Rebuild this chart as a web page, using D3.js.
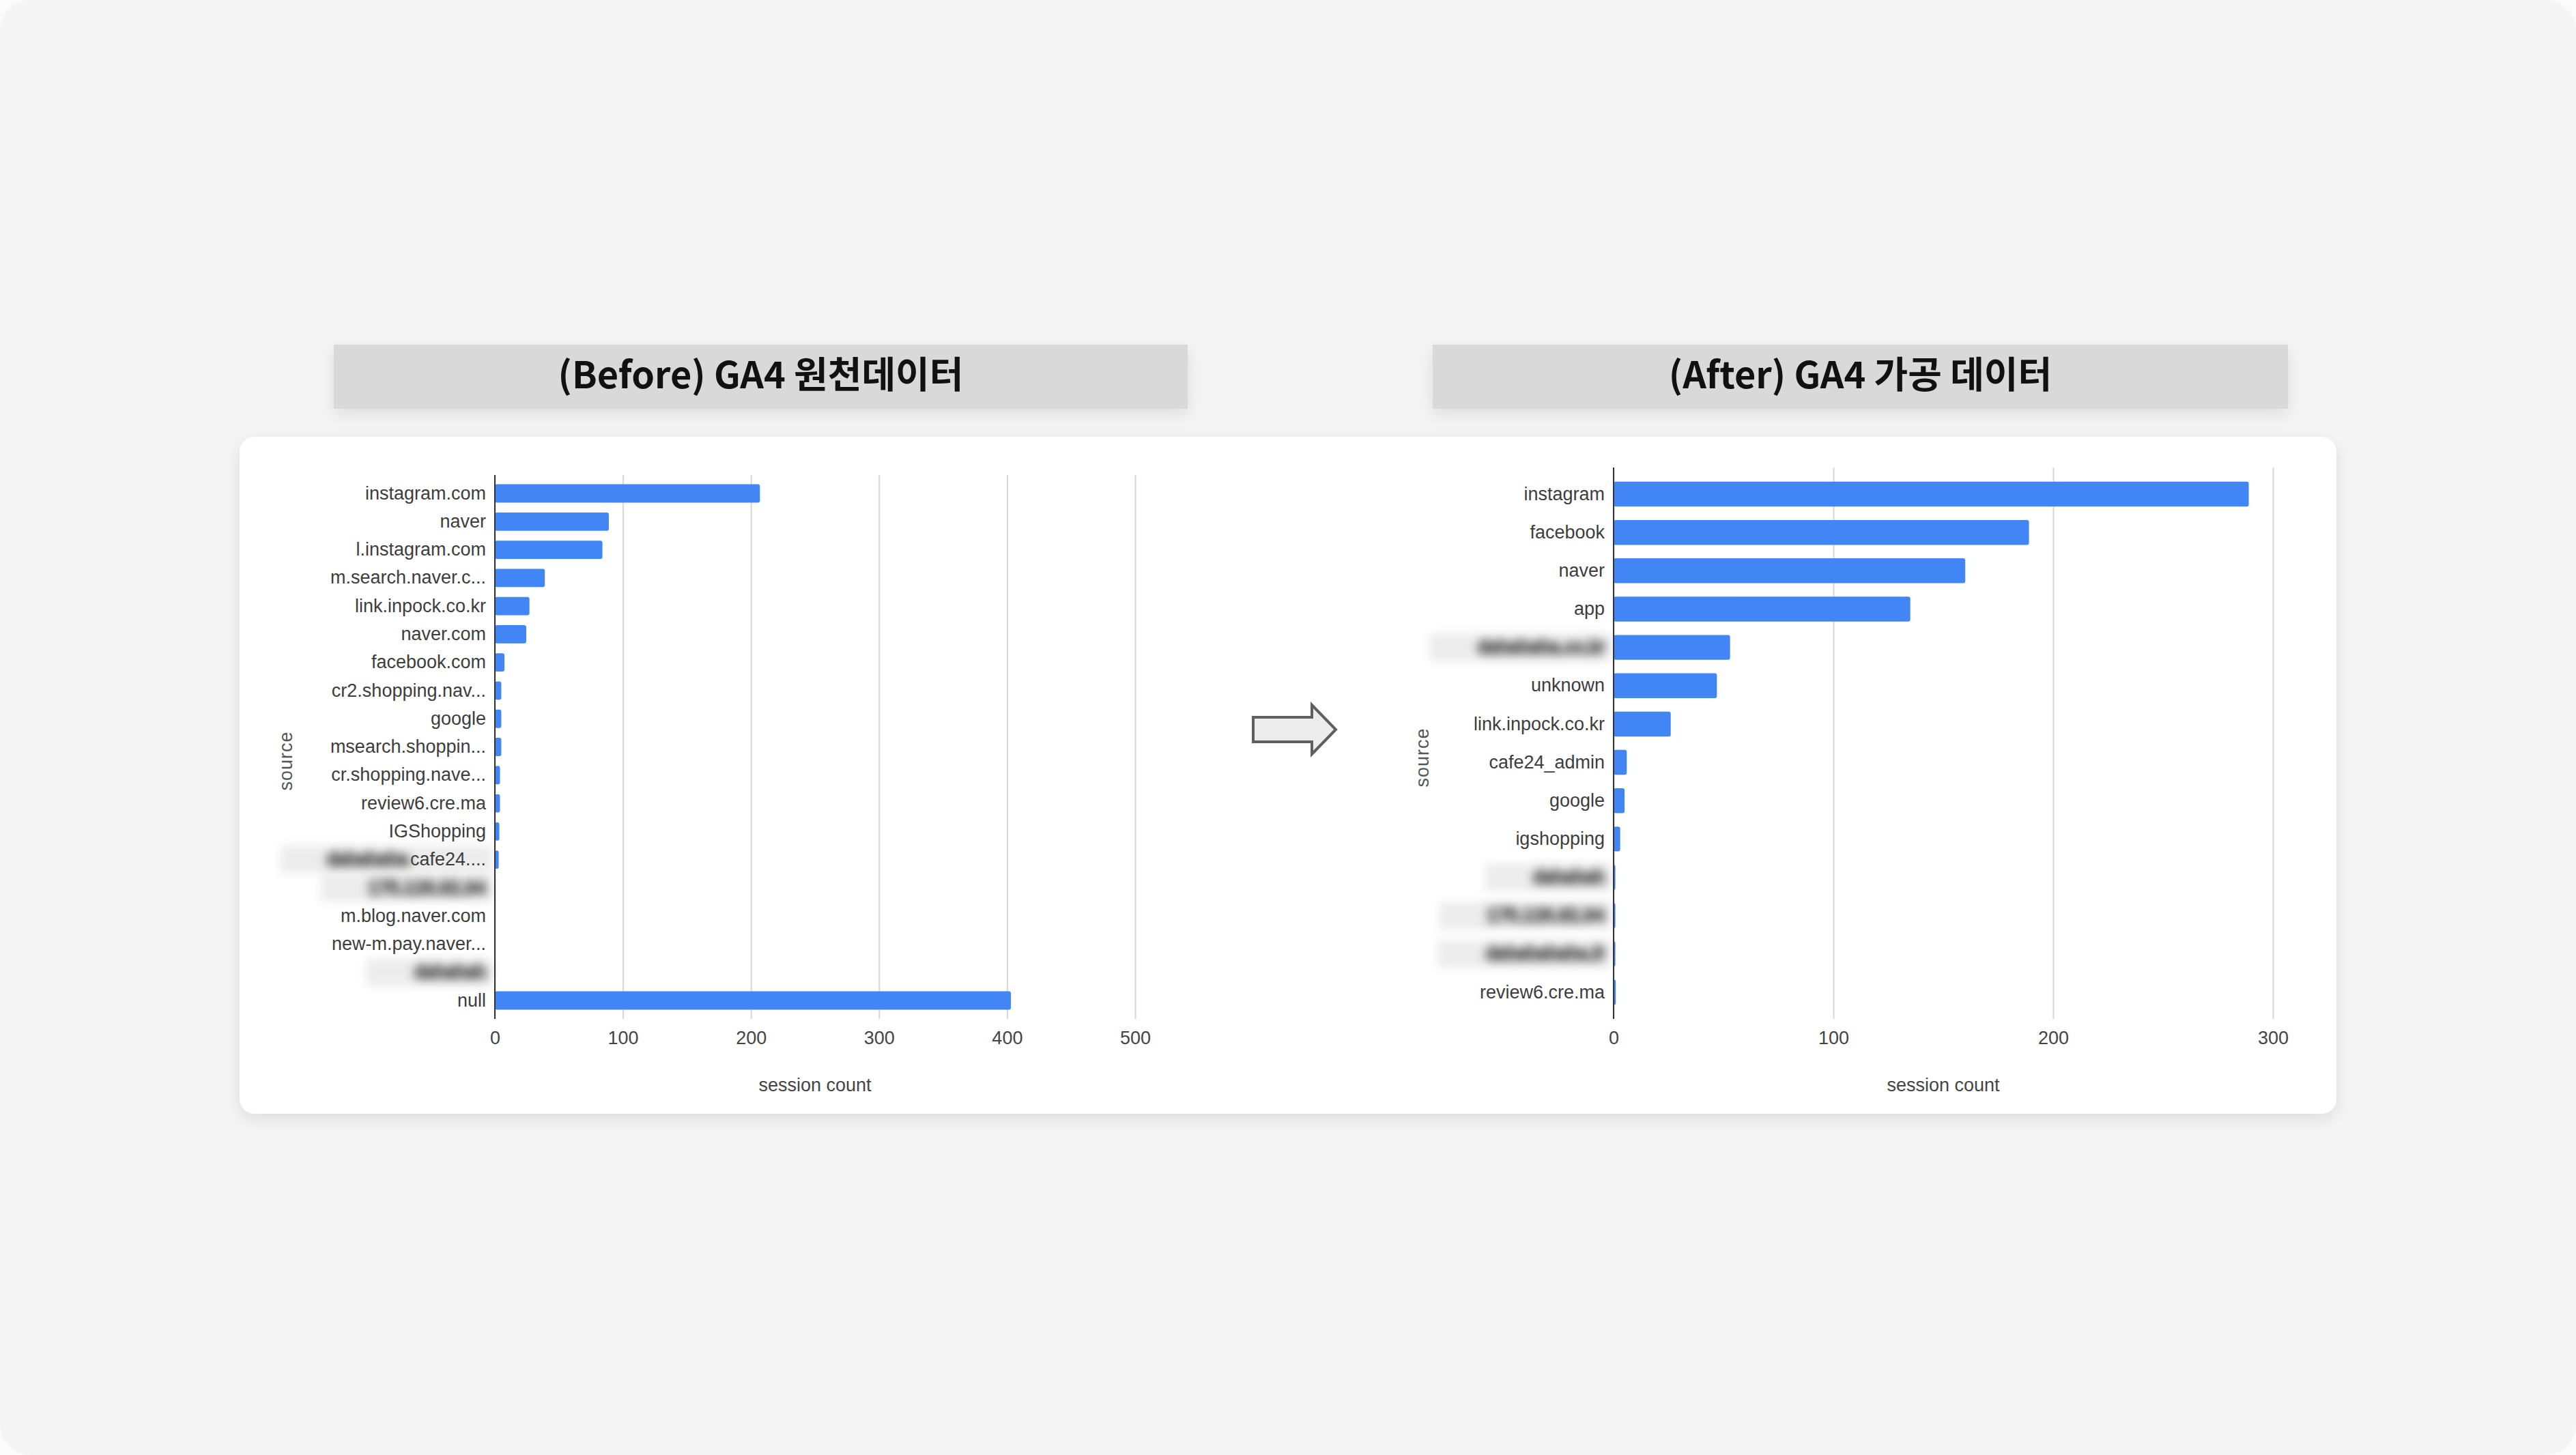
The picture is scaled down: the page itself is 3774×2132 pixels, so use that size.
<!DOCTYPE html>
<html>
<head>
<meta charset="utf-8">
<script src="https://cdn.jsdelivr.net/npm/d3@7"></script>
<style>
    html, body { margin: 0; padding: 0; background: #fbfbfb; }
    svg { display: block; }
</style>
</head>
<body>
<div id="chart"></div>
<script>
// Before: raw GA4 sources (session count)
const leftSources = ["instagram.com", "naver", "l.instagram.com", "m.search.naver.c...", "link.inpock.co.kr",
    "naver.com", "facebook.com", "cr2.shopping.nav...", "google", "msearch.shoppin...", "cr.shopping.nave...",
    "review6.cre.ma", "IGShopping", "cafe24....", "175.126.82.94", "m.blog.naver.com", "new-m.pay.naver...",
    "dahahah", "null"];
const leftSessions = [207, 89, 84, 39, 27, 24.5, 7.5, 5, 5, 5, 4, 4, 3.5, 3, 0.5, 0.5, 0.5, 0.5, 403];
// masked labels: "all" = whole label blurred, other string = blurred prefix
const leftMask = [null, null, null, null, null, null, null, null, null, null, null, null, null,
    "dahahaha", "all", null, null, "all", null];
const leftTicks = [0, 100, 200, 300, 400, 500];

// After: processed GA4 sources
const rightSources = ["instagram", "facebook", "naver", "app", "dahahaha.co.kr", "unknown", "link.inpock.co.kr",
    "cafe24_admin", "google", "igshopping", "dahahah", "175.126.82.94", "dahahahaha.fr", "review6.cre.ma"];
const rightSessions = [289, 189, 160, 135, 53, 47, 26, 6, 5, 3, 0.8, 0.8, 0.8, 1];
const rightMask = [null, null, null, null, "all", null, null, null, null, null, "all", "all", "all", null];
const rightTicks = [0, 100, 200, 300];

const titles = ["(Before) GA4 원천데이터", "(After) GA4 가공 데이터"];
const yTitle = "source";
const xTitle = "session count";

const W = 3774, H = 2132;
const labelFont = "'Liberation Sans', Arial, sans-serif";

const svg = d3.select("#chart").append("svg")
    .attr("width", W)
    .attr("height", H);

const defs = svg.append("defs");
defs.append("filter").attr("id", "shadow")
    .attr("x", "-10%").attr("y", "-30%").attr("width", "120%").attr("height", "170%")
    .append("feDropShadow")
    .attr("dx", 0).attr("dy", 8).attr("stdDeviation", 12)
    .attr("flood-color", "#000").attr("flood-opacity", 0.1);
defs.append("filter").attr("id", "blurText")
    .attr("x", "-20%").attr("y", "-60%").attr("width", "140%").attr("height", "220%")
    .append("feGaussianBlur").attr("stdDeviation", 7);
defs.append("filter").attr("id", "blurBox")
    .attr("x", "-20%").attr("y", "-60%").attr("width", "140%").attr("height", "220%")
    .append("feGaussianBlur").attr("stdDeviation", 7);

// page background
svg.append("rect")
    .attr("width", W).attr("height", H)
    .attr("rx", 45)
    .attr("fill", "#f5f5f5");

// white panel holding both charts
svg.append("rect")
    .attr("x", 351).attr("y", 640)
    .attr("width", 3072).attr("height", 992)
    .attr("rx", 22)
    .attr("fill", "#fff")
    .attr("filter", "url(#shadow)");

// title boxes
const titleBoxes = [{ x: 489, w: 1251 }, { x: 2099, w: 1253 }];
titleBoxes.forEach((b, i) => {
    svg.append("rect")
        .attr("x", b.x).attr("y", 505)
        .attr("width", b.w).attr("height", 94)
        .attr("fill", "#d9d9d9")
        .attr("filter", "url(#shadow)");
    svg.append("text")
        .attr("x", b.x + b.w / 2)
        .attr("y", 545)
        .attr("text-anchor", "middle")
        .attr("dominant-baseline", "central")
        .style("font-family", "'Noto Sans CJK KR', 'Noto Sans', sans-serif")
        .style("font-weight", 700)
        .style("font-size", "54px")
        .attr("fill", "#111")
        .text(titles[i]);
});

// arrow between the charts
svg.append("path")
    .attr("d", "M1836,1051 H1922 V1033 L1957,1069 L1922,1105 V1087 H1836 Z")
    .attr("fill", "#ececec")
    .attr("stroke", "#5f5f5f")
    .attr("stroke-width", 4)
    .attr("stroke-linejoin", "miter");

function drawChart(c) {
    const x = d3.scaleLinear().domain([0, c.max]).range([c.x0, c.x1]);
    const y = d3.scaleBand()
        .domain(c.sources)
        .range([c.y0, c.y1])
        .paddingInner(0.35)
        .paddingOuter(c.outer);

    const g = svg.append("g");
    const maskLayer = g.append("g");

    // gridlines + x tick labels
    g.append("g")
        .attr("transform", `translate(0,${c.y1})`)
        .call(d3.axisBottom(x).tickValues(c.ticks).tickSize(-(c.y1 - c.y0)).tickPadding(0))
        .call(a => a.select(".domain").remove())
        .call(a => a.selectAll("line").attr("stroke", "#d6d6d6").attr("stroke-width", 2))
        .call(a => a.selectAll("text")
            .attr("y", 28).attr("dy", "0.35em")
            .attr("fill", "#444")
            .style("font-size", "27px")
            .style("font-family", labelFont));

    // bars
    const rows = c.sources.map((s, i) => ({ s: s, v: c.sessions[i] }));
    g.selectAll("rect.bar")
        .data(rows)
        .join("rect")
        .attr("class", "bar")
        .attr("x", x(0))
        .attr("y", d => y(d.s))
        .attr("width", d => x(d.v) - x(0))
        .attr("height", y.bandwidth())
        .attr("rx", 3)
        .attr("fill", "#4285f4");

    // zero line
    g.append("line")
        .attr("x1", x(0)).attr("x2", x(0))
        .attr("y1", c.y0).attr("y2", c.y1)
        .attr("stroke", "#333")
        .attr("stroke-width", 2);

    // category labels
    const ya = g.append("g")
        .attr("transform", `translate(${x(0)},0)`)
        .call(d3.axisLeft(y).tickSize(0).tickPadding(13));
    ya.select(".domain").remove();
    ya.selectAll("text")
        .attr("fill", "#3d3d3d")
        .style("font-size", "27px")
        .style("font-family", labelFont);

    // blurred (masked) labels
    ya.selectAll(".tick text").each(function (d, i) {
        const m = c.mask[i];
        if (!m) return;
        const t = d3.select(this);
        const cy = y(d) + y.bandwidth() / 2;
        const right = x(0) - 13;
        let left;
        if (m === "all") {
            t.attr("fill", "#6a6a6a")
                .attr("stroke", "#6a6a6a").attr("stroke-width", 4)
                .attr("filter", "url(#blurText)");
            left = right - this.getComputedTextLength();
        } else {
            const w = this.getComputedTextLength();
            ya.append("text")
                .attr("x", -13 - w - 2)
                .attr("y", cy)
                .attr("dy", "0.32em")
                .attr("text-anchor", "end")
                .attr("fill", "#6a6a6a")
                .attr("stroke", "#6a6a6a").attr("stroke-width", 4)
                .attr("filter", "url(#blurText)")
                .style("font-size", "27px")
                .style("font-family", labelFont)
                .text(m);
            left = right - w - 120;
        }
        maskLayer.append("rect")
            .attr("x", left - 70)
            .attr("y", cy - 20)
            .attr("width", right - left + 80)
            .attr("height", 40)
            .attr("fill", "#ececec")
            .attr("filter", "url(#blurBox)");
    });

    // axis titles
    g.append("text")
        .attr("transform", `translate(${c.srcX},${c.srcY}) rotate(-90)`)
        .attr("text-anchor", "middle")
        .attr("dy", "0.35em")
        .attr("fill", "#555")
        .style("font-size", "27px")
        .style("letter-spacing", "1px")
        .style("font-family", labelFont)
        .text(yTitle);

    g.append("text")
        .attr("x", (c.x0 + c.x1) / 2)
        .attr("y", 1590)
        .attr("text-anchor", "middle")
        .attr("dy", "0.35em")
        .attr("fill", "#444")
        .style("font-size", "27px")
        .style("font-family", labelFont)
        .text(xTitle);
}

drawChart({
    sources: leftSources, sessions: leftSessions, mask: leftMask, ticks: leftTicks,
    max: 500, x0: 725, x1: 1663, y0: 696, y1: 1493, outer: 0.33,
    srcX: 419, srcY: 1115
});

drawChart({
    sources: rightSources, sessions: rightSessions, mask: rightMask, ticks: rightTicks,
    max: 300, x0: 2364, x1: 3330, y0: 685, y1: 1493, outer: 0.37,
    srcX: 2084, srcY: 1110
});
</script>
</body>
</html>
